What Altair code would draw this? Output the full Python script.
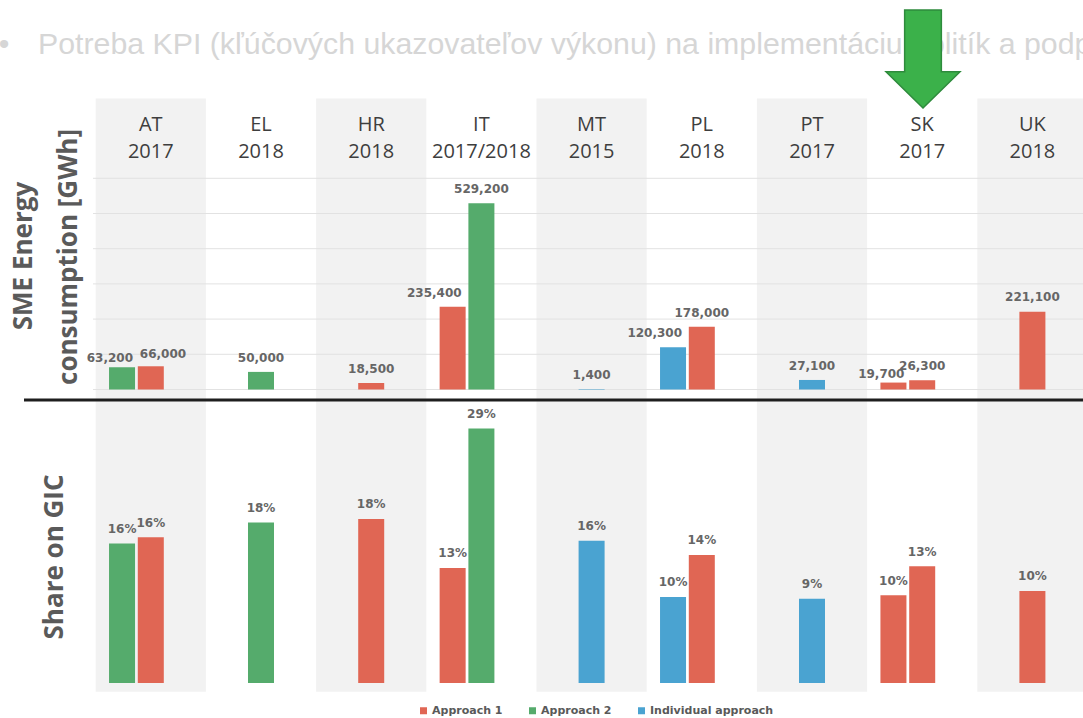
import altair as alt
import pandas as pd

# ---------------- data ----------------
countries = ["AT", "EL", "HR", "IT", "MT", "PL", "PT", "SK", "UK"]
years = ["2017", "2018", "2018", "2017/2018", "2015", "2018", "2017", "2017", "2018"]

bar_country = ["AT", "AT", "EL", "HR", "IT", "IT", "MT", "PL", "PL", "PT", "SK", "SK", "UK"]
bar_series = ["Approach 2", "Approach 1", "Approach 2", "Approach 1", "Approach 1", "Approach 2",
              "Individual approach", "Individual approach", "Approach 1", "Individual approach",
              "Approach 1", "Approach 1", "Approach 1"]
energy_gwh = [63200, 66000, 50000, 18500, 235400, 529200, 1400, 120300, 178000, 27100, 19700, 26300, 221100]
gic_share = [15.9, 16.6, 18.3, 18.7, 13.1, 29.0, 16.2, 9.8, 14.6, 9.6, 10.0, 13.3, 10.5]
gic_labels = ["16%", "16%", "18%", "18%", "13%", "29%", "16%", "10%", "14%", "9%", "10%", "13%", "10%"]

series_names = ["Approach 1", "Approach 2", "Individual approach"]
series_colors = ["#E06654", "#55AB6C", "#4AA3D1"]

gwh_gridlines = [0, 100000, 200000, 300000, 400000, 500000, 600000]

top_axis_title = ["SME Energy", "consumption [GWh]"]
bottom_axis_title = "Share on GIC"
header_text = "Potreba KPI (kľúčových ukazovateľov výkonu) na implementáciu politík a podp"

# ---------------- layout ----------------
PAIR_STEP = 0.261   # offset of first bar of a pair, in column units
BAR_HALF = 0.118    # half bar width, in column units
LOW_LEFT_LABEL = {"AT", "SK"}
PUSHED_RIGHT_LABEL = {"AT"}

rows = []
for k, c in enumerate(bar_country):
    ci = countries.index(c)
    same = [j for j, cc in enumerate(bar_country) if cc == c]
    n = len(same)
    pos_in = same.index(k)
    pos = ci - (n - 1 - pos_in) * PAIR_STEP
    if n == 2 and pos_in == 0:
        group = "left_low" if c in LOW_LEFT_LABEL else "left"
    elif n == 2 and c in PUSHED_RIGHT_LABEL:
        group = "pushed"
    else:
        group = "center"
    rows.append({
        "country": c, "series": bar_series[k],
        "x0": pos - BAR_HALF, "x1": pos + BAR_HALF, "xc": pos,
        "gwh": energy_gwh[k], "gwh_label": f"{energy_gwh[k]:,}",
        "gic": gic_share[k], "gic_label": gic_labels[k],
        "base": 0, "group": group,
    })
bars = pd.DataFrame(rows)

cols = pd.DataFrame({"i": list(range(len(countries))), "country": countries, "year": years})
bands = pd.DataFrame({"lo": [i - 0.5 for i in range(0, len(countries), 2)],
                      "hi": [i + 0.5 for i in range(0, len(countries), 2)]})
grid = pd.DataFrame({"v": gwh_gridlines})
one = pd.DataFrame({"a": [0]})

xs = alt.Scale(domain=[0, 8], range=[150.8, 1032.4], nice=False, zero=False)
ytop = alt.Scale(domain=[0, 600000], range=[389.5, 178.3], nice=False, zero=False)
ybot = alt.Scale(domain=[0, 30], range=[683, 419.8], nice=False, zero=False)
cscale = alt.Scale(domain=series_names, range=series_colors)
legend = alt.Legend(orient="none", legendX=418, legendY=705, direction="horizontal", title=None,
                    symbolType="square", symbolSize=49, symbolStrokeWidth=0,
                    labelFont="DejaVu Sans", labelFontWeight="bold", labelFontSize=11,
                    labelColor="#595959", columnPadding=24, labelOffset=3, padding=0)

LABEL_FONT = "DejaVu Sans"
LABEL_COLOR = "#666666"

band_layer = alt.Chart(bands).mark_rect(color="#F2F2F2").encode(
    x=alt.X("lo:Q", scale=xs, axis=None), x2="hi:Q",
    y=alt.value(98.5), y2=alt.value(691.7))

grid_layer = alt.Chart(grid).mark_rule(color="#E2E2E2", strokeWidth=1).encode(
    y=alt.Y("v:Q", scale=ytop, axis=None), x=alt.value(93), x2=alt.value(1083))

divider = alt.Chart(one).mark_rule(color="#1E1E1E", strokeWidth=3).encode(
    x=alt.value(24), x2=alt.value(1083), y=alt.value(400))

top_bars = alt.Chart(bars).mark_rect().encode(
    x=alt.X("x0:Q", scale=xs, axis=None), x2="x1:Q",
    y=alt.Y("gwh:Q", scale=ytop, axis=None), y2="base:Q",
    color=alt.Color("series:N", scale=cscale, legend=legend))

bot_bars = alt.Chart(bars).mark_rect().encode(
    x=alt.X("x0:Q", scale=xs, axis=None), x2="x1:Q",
    y=alt.Y("gic:Q", scale=ybot, axis=None), y2="base:Q",
    color=alt.Color("series:N", scale=cscale, legend=legend))


def top_labels(group, align, dx, dy):
    return alt.Chart(bars).transform_filter(alt.datum.group == group).mark_text(
        font=LABEL_FONT, fontWeight="bold", fontSize=12, color=LABEL_COLOR,
        align=align, baseline="middle", dx=dx, dy=dy).encode(
        x=alt.X("xc:Q", scale=xs, axis=None),
        y=alt.Y("gwh:Q", scale=ytop, axis=None),
        text="gwh_label:N")


top_lab_center = top_labels("center", "center", 0, -14.3)
top_lab_left = top_labels("left", "right", 9, -14)
top_lab_left_low = top_labels("left_low", "right", 11, -9)
top_lab_pushed = top_labels("pushed", "left", -11, -12)

bot_labels = alt.Chart(bars).mark_text(
    font=LABEL_FONT, fontWeight="bold", fontSize=12, color=LABEL_COLOR,
    align="center", baseline="middle", dy=-14.6).encode(
    x=alt.X("xc:Q", scale=xs, axis=None),
    y=alt.Y("gic:Q", scale=ybot, axis=None),
    text="gic_label:N")

col_country = alt.Chart(cols).mark_text(
    font="Open Sans", fontSize=20, color="#3E3E3E", baseline="middle").encode(
    x=alt.X("i:Q", scale=xs, axis=None), y=alt.value(125), text="country:N")
col_year = alt.Chart(cols).mark_text(
    font="Open Sans", fontSize=20, color="#3E3E3E", baseline="middle").encode(
    x=alt.X("i:Q", scale=xs, axis=None), y=alt.value(152), text="year:N")

title_style = dict(font="Open Sans", fontWeight="bold", fontSize=26, color="#5A5A5A",
                   angle=270, align="center", baseline="alphabetic")
t1 = alt.Chart(one).mark_text(text=top_axis_title[0], **title_style).encode(
    x=alt.value(32), y=alt.value(256))
t2 = alt.Chart(one).mark_text(text=top_axis_title[1], **title_style).encode(
    x=alt.value(77), y=alt.value(257))
t3 = alt.Chart(one).mark_text(text=bottom_axis_title, **title_style).encode(
    x=alt.value(63), y=alt.value(557))

header_style = dict(font="Liberation Sans", fontSize=30.3, color="#D6D6D6", baseline="alphabetic")
bullet = alt.Chart(one).mark_text(text="•", align="center", **header_style).encode(
    x=alt.value(4), y=alt.value(54))
header = alt.Chart(one).mark_text(text=header_text, align="left", **header_style).encode(
    x=alt.value(38), y=alt.value(54))

ARROW = "M-0.3745,-1L0.3745,-1L0.3745,0.259L0.755,0.259L0,1L-0.755,0.259L-0.3745,0.259Z"
arrow = alt.Chart(one).mark_point(shape=ARROW, size=9604, filled=True, fill="#3BB14A",
                                  stroke="#2E8B3C", strokeWidth=1.5, opacity=1).encode(
    x=alt.value(923), y=alt.value(59))

chart = alt.layer(
    band_layer, grid_layer, divider, top_bars, bot_bars,
    top_lab_center, top_lab_left, top_lab_left_low, top_lab_pushed, bot_labels,
    col_country, col_year, t1, t2, t3, bullet, header, arrow,
).resolve_scale(y="independent").properties(
    width=1083, height=718, autosize=alt.AutoSizeParams(type="none"), padding=0,
    background="white",
).configure_view(stroke=None)

chart.save("out.html", embed_options={"renderer": "svg", "actions": False})
